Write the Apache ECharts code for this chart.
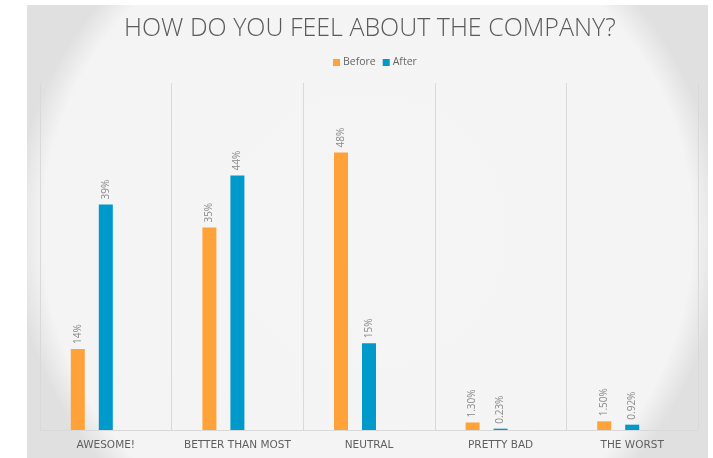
<!DOCTYPE html>
<html>
<head>
<meta charset="utf-8">
<script src="https://cdn.jsdelivr.net/npm/echarts@6/dist/echarts.min.js"></script>
<style>
  html, body { margin: 0; padding: 0; background: #ffffff; }
  #main { width: 713px; height: 458px; }
</style>
</head>
<body>
<div id="main"></div>
<script>
var categories = ['AWESOME!', 'BETTER THAN MOST', 'NEUTRAL', 'PRETTY BAD', 'THE WORST'];
var beforeValues = [14, 35, 48, 1.3, 1.5];
var afterValues = [39, 44, 15, 0.23, 0.92];
// empty third slot, keeps the pair shifted left like the original
var spareValues = [null, null, null, null, null];

function pctLabel(p) {
    var v = p.value;
    return (v < 10 ? v.toFixed(2) : v.toFixed(0)) + '%';
}

var labelStyle = {
    show: true,
    position: 'top',
    distance: 5,
    rotate: 90,
    align: 'left',
    verticalAlign: 'middle',
    color: '#8a8a8a',
    fontSize: 10,
    fontFamily: 'Open Sans',
    formatter: pctLabel
};

var myChart = echarts.init(document.getElementById('main'));
var option = {
    backgroundColor: '#ffffff',
    animation: false,
    graphic: [{
        type: 'rect',
        z: -10,
        shape: {x: 27, y: 5, width: 681, height: 453},
        style: {
            fill: {
                type: 'radial', x: 0.5, y: 0.5, r: 0.78,
                colorStops: [
                    {offset: 0, color: '#f5f5f5'},
                    {offset: 0.92, color: '#f4f4f4'},
                    {offset: 1, color: '#e0e0e0'}
                ]
            }
        }
    }],
    title: {
        text: 'HOW DO YOU FEEL ABOUT THE COMPANY?',
        left: 119,
        top: 11,
        textStyle: {
            fontFamily: 'Open Sans',
            fontWeight: 300,
            fontSize: 25,
            color: '#5a5a5a'
        }
    },
    legend: {
        data: ['Before', 'After'],
        top: 52,
        left: 328,
        itemWidth: 7,
        itemHeight: 7,
        itemGap: 7,
        icon: 'rect',
        textStyle: {fontSize: 10.5, color: '#666666', fontFamily: 'Open Sans', padding: [0, 0, 0, -2]}
    },
    grid: {left: 40, right: 15, top: 83, bottom: 28},
    xAxis: {
        type: 'category',
        data: categories,
        axisLine: {lineStyle: {color: '#d9d9d9'}},
        axisTick: {show: false},
        splitLine: {show: true, interval: 0, lineStyle: {color: '#d9d9d9'}},
        axisLabel: {
            interval: 0,
            color: '#5f5f5f',
            fontSize: 10.5,
            fontFamily: 'DejaVu Sans',
            margin: 10
        }
    },
    yAxis: {
        type: 'value',
        min: 0,
        max: 60,
        position: 'right',
        axisLine: {show: true, lineStyle: {color: '#d9d9d9'}},
        axisTick: {show: false},
        axisLabel: {show: false},
        splitLine: {show: false}
    },
    series: [
        {
            name: 'Before', type: 'bar', data: beforeValues,
            barWidth: 14, barGap: '100%',
            itemStyle: {color: '#ffa23a'},
            label: labelStyle
        },
        {
            name: 'After', type: 'bar', data: afterValues,
            barWidth: 14, barGap: '100%',
            itemStyle: {color: '#0099cc'},
            label: labelStyle
        },
        {
            name: 'spare', type: 'bar', data: spareValues,
            barWidth: 14, barGap: '100%'
        }
    ]
};
myChart.setOption(option);
</script>
</body>
</html>
